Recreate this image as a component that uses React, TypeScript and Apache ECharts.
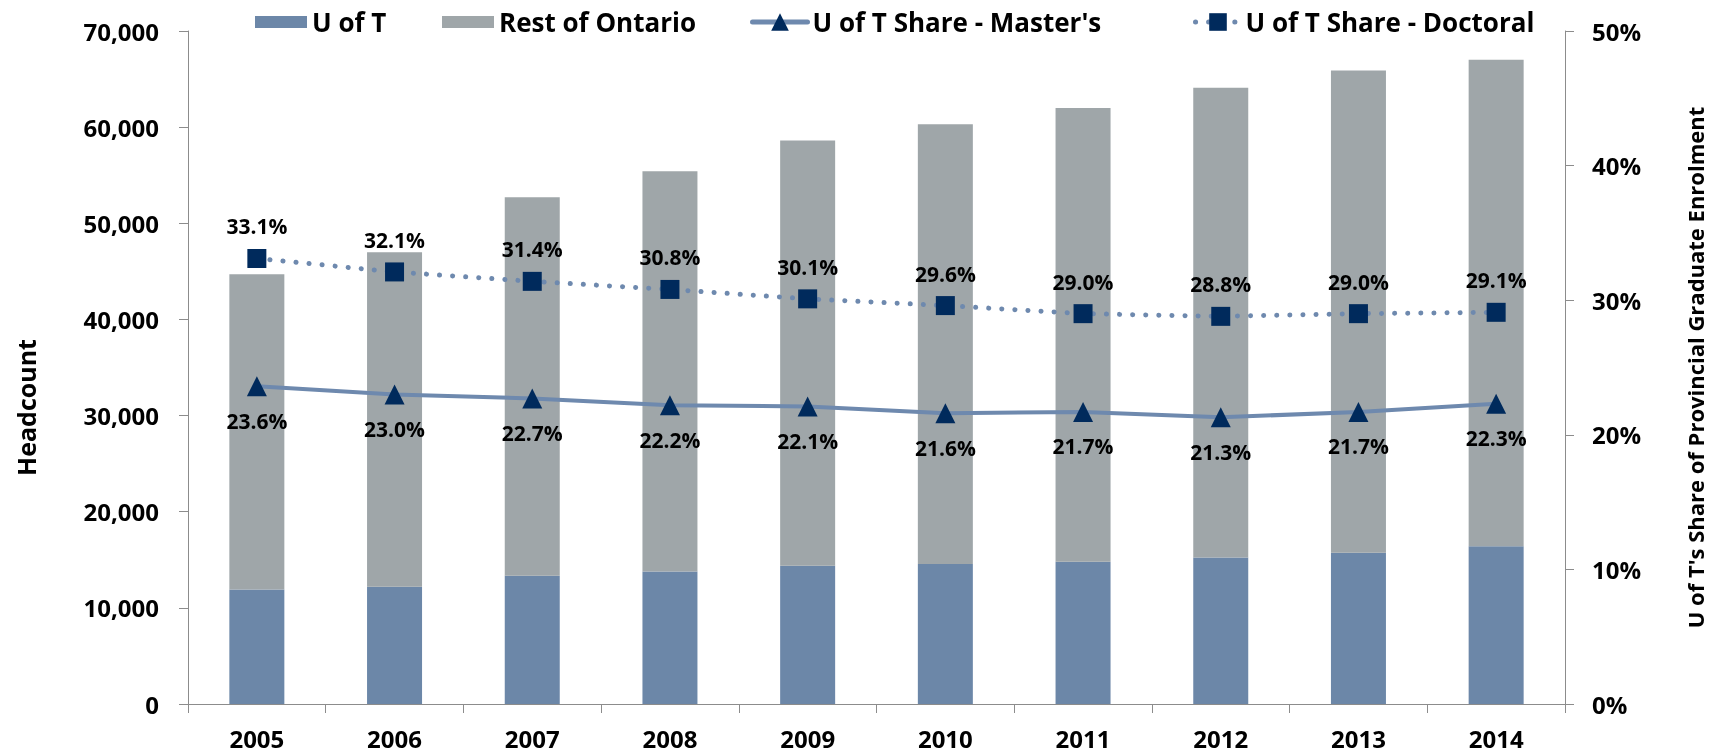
import React, { useEffect, useRef } from "react";
import * as echarts from "echarts";

const years = ["2005", "2006", "2007", "2008", "2009", "2010", "2011", "2012", "2013", "2014"];
const uoftHeadcount = [11900, 12200, 13350, 13780, 14390, 14550, 14800, 15250, 15730, 16400];
const restOfOntario = [32800, 34800, 39350, 41620, 44210, 45750, 47200, 48850, 50170, 50600];
const mastersShare = [23.6, 23.0, 22.7, 22.2, 22.1, 21.6, 21.7, 21.3, 21.7, 22.3];
const doctoralShare = [33.1, 32.1, 31.4, 30.8, 30.1, 29.6, 29.0, 28.8, 29.0, 29.1];
const headcountTicks = { min: 0, max: 70000, interval: 10000 };
const shareTicks = { min: 0, max: 50, interval: 10 };

const FONT = "'Open Sans', 'Noto Sans', sans-serif";
const AXIS = "#8C8C8C";
const BLUE = "#6C87A8";
const GRAY = "#9FA6A9";
const LINE = "#6E89AE";
const NAVY = "#002A5C";

const fmtThousands = (v: number) => String(v).replace(/\B(?=(\d{3})+(?!\d))/g, ",");

export default function App() {
  const ref = useRef<HTMLDivElement>(null);
  useEffect(() => {
    if (!ref.current) return;
    const chart = echarts.init(ref.current, undefined, { renderer: "svg" });
    const legendText = { fontSize: 26, fontWeight: "bold", color: "#000", fontFamily: FONT };
    const labelStyle = { fontSize: 21, fontWeight: "bold", color: "#000", fontFamily: FONT };
    const axisLabel = { fontSize: 24, fontWeight: "bold", color: "#000", fontFamily: FONT };
    const option: any = {
      animation: false,
      textStyle: { fontFamily: FONT },
      grid: { left: 188, right: 154, top: 31, bottom: 52 },
      legend: [
        { data: ["U of T"], left: 250, top: 4, itemWidth: 52, itemHeight: 12, itemGap: 0, selectedMode: false, textStyle: legendText, icon: "rect" },
        { data: ["Rest of Ontario"], left: 437, top: 4, itemWidth: 52, itemHeight: 12, itemGap: 0, selectedMode: false, textStyle: legendText, icon: "rect" },
        {
          data: [{ name: "U of T Share - Master's", lineStyle: { width: 5, color: LINE, cap: "round" } }],
          left: 745, top: 4, itemWidth: 55, itemHeight: 22, itemGap: 0, selectedMode: false, textStyle: legendText,
          lineStyle: { width: 5, color: LINE, cap: "round" },
        },
        {
          data: [{ name: "U of T Share - Doctoral", lineStyle: { width: 5, color: LINE, cap: "round" } }],
          left: 1188, top: 4, itemWidth: 45, itemHeight: 22, itemGap: 0, selectedMode: false, textStyle: legendText,
          lineStyle: { width: 5, color: LINE, cap: "round" },
        },
      ],
      xAxis: {
        type: "category",
        data: years,
        axisLine: { show: true, lineStyle: { color: AXIS, width: 1 } },
        axisTick: { show: true, length: 9, lineStyle: { color: AXIS } },
        axisLabel: { ...axisLabel, margin: 22 },
      },
      yAxis: [
        {
          type: "value",
          ...headcountTicks,
          name: "Headcount",
          nameLocation: "middle",
          nameRotate: 90,
          nameGap: 150,
          nameTextStyle: { fontSize: 25, fontWeight: "bold", color: "#000", fontFamily: FONT, padding: [0, 80, 0, 0] },
          axisLine: { show: true, lineStyle: { color: AXIS, width: 1 } },
          axisTick: { show: true, length: 9, lineStyle: { color: AXIS } },
          splitLine: { show: false },
          axisLabel: { ...axisLabel, margin: 29, formatter: (v: number) => fmtThousands(v) },
        },
        {
          type: "value",
          position: "right",
          ...shareTicks,
          name: "U of T's Share of Provincial Graduate Enrolment",
          nameLocation: "middle",
          nameRotate: 90,
          nameGap: 119,
          nameTextStyle: { fontSize: 22, fontWeight: "bold", color: "#000", fontFamily: FONT },
          axisLine: { show: true, lineStyle: { color: AXIS, width: 1 } },
          axisTick: { show: true, length: 9, lineStyle: { color: AXIS } },
          splitLine: { show: false },
          axisLabel: { ...axisLabel, margin: 27, formatter: (v: number) => v + "%" },
        },
      ],
      series: [
        {
          name: "U of T",
          type: "bar",
          stack: "hc",
          barWidth: 55,
          itemStyle: { color: BLUE },
          data: uoftHeadcount,
        },
        {
          name: "Rest of Ontario",
          type: "bar",
          stack: "hc",
          barWidth: 55,
          itemStyle: { color: GRAY },
          data: restOfOntario,
        },
        {
          name: "U of T Share - Master's",
          type: "line",
          yAxisIndex: 1,
          symbol: "triangle",
          symbolSize: 20,
          itemStyle: { color: NAVY },
          lineStyle: { color: LINE, width: 4, cap: "round" },
          label: { show: true, position: "bottom", distance: 14, ...labelStyle, formatter: (p: any) => p.value.toFixed(1) + "%" },
          data: mastersShare,
        },
        {
          name: "U of T Share - Doctoral",
          type: "line",
          yAxisIndex: 1,
          symbol: "rect",
          symbolSize: 19,
          itemStyle: { color: NAVY },
          lineStyle: { color: LINE, width: 5, type: [0.1, 13], cap: "round" },
          label: { show: true, position: "top", distance: 12, ...labelStyle, formatter: (p: any) => p.value.toFixed(1) + "%" },
          data: doctoralShare,
        },
      ],
    };
    chart.setOption(option);
    return () => chart.dispose();
  }, []);
  return <div ref={ref} style={{ position: "fixed", left: 0, top: 0, width: "1719px", height: "756px" }} />;
}
